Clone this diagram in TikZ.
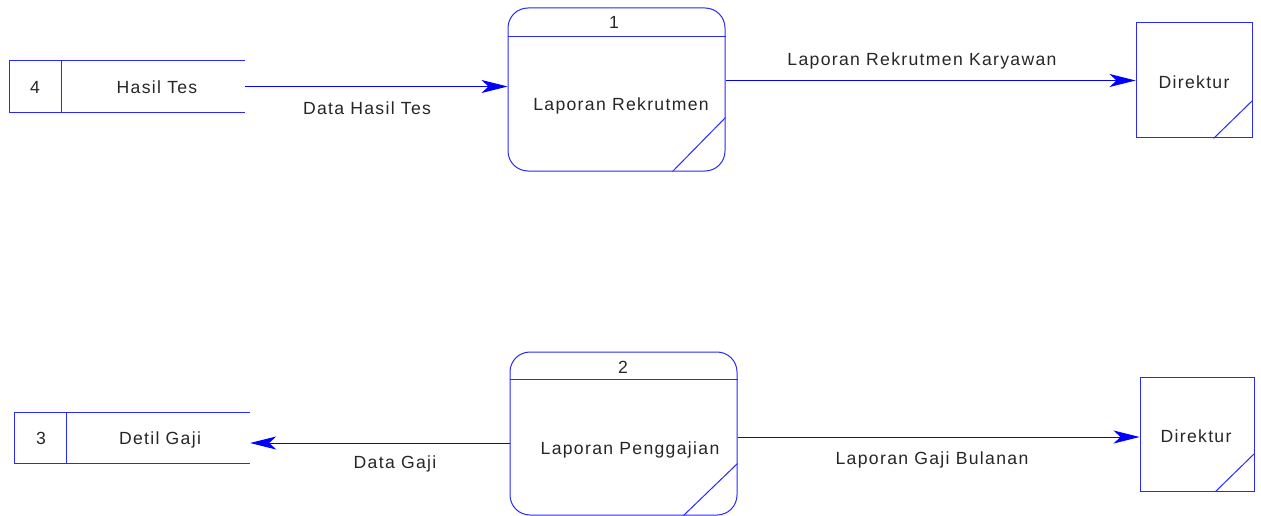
\documentclass[tikz,border=0pt]{standalone}
\usepackage{fontspec}
\setmainfont{Liberation Sans}[LetterSpace=7.5]
\usetikzlibrary{arrows.meta}
\definecolor{dfdblue}{RGB}{40,40,255}
\tikzset{
  line/.style={draw=dfdblue, line width=1pt},
  proc/.style={line, rounded corners=20pt, inner sep=0pt},
  ext/.style={line, inner sep=0pt},
  store/.style={inner sep=0pt},
  flow/.style={line, -{Stealth[length=26pt,width=13pt,inset=7pt]}, draw=blue, fill=blue},
  txt/.style={font=\fontsize{17.6}{19}\selectfont, inner sep=0pt, text=black!85},
}
\begin{document}
\begin{tikzpicture}[x=1pt,y=-1pt]
\useasboundingbox (0,0) rectangle (1261,516);
% process 1
\node[proc, minimum width=217pt, minimum height=163pt] (p1) at (616.5,89.5) {};
\draw[line] ([yshift=-29pt]p1.north west) -- ([yshift=-29pt]p1.north east);
\draw[line] ([yshift=54pt]p1.south east) -- ([xshift=-53pt]p1.south east);
\node[txt] (p1n) at (614,22) {1};
\node[txt] (p1t) at (621,106) {Laporan Rekrutmen};
% process 2
\node[proc, minimum width=227pt, minimum height=163pt] (p2) at (623.5,433.5) {};
\draw[line] ([yshift=-28pt]p2.north west) -- ([yshift=-28pt]p2.north east);
\draw[line] ([yshift=52pt]p2.south east) -- ([xshift=-54pt]p2.south east);
\node[txt] (p2n) at (623,367) {2};
\node[txt] (p2t) at (630,450) {Laporan Penggajian};
% externals
\node[ext, minimum width=116pt, minimum height=115pt] (d1) at (1194,80.5) {};
\draw[line] ([yshift=38pt]d1.south east) -- ([xshift=-39pt]d1.south east);
\node[txt] (d1t) at (1194,82) {Direktur};
\node[ext, minimum width=114pt, minimum height=114pt] (d2) at (1197,434) {};
\draw[line] ([yshift=38pt]d2.south east) -- ([xshift=-39pt]d2.south east);
\node[txt] (d2t) at (1196,436) {Direktur};
% store 4
\node[store, minimum width=235pt, minimum height=51pt] (s4) at (127.5,86.5) {};
\draw[line] (s4.north east) -- (s4.north west) -- (s4.south west) -- (s4.south east);
\draw[line] ([xshift=52pt]s4.north west) -- ([xshift=52pt]s4.south west);
\node[txt] (s4n) at (35,87) {4};
\node[txt] (s4t) at (157,87) {Hasil Tes};
% store 3
\node[store, minimum width=235pt, minimum height=50pt] (s3) at (132.5,438) {};
\draw[line] (s3.north east) -- (s3.north west) -- (s3.south west) -- (s3.south east);
\draw[line] ([xshift=52pt]s3.north west) -- ([xshift=52pt]s3.south west);
\node[txt] (s3n) at (41,438) {3};
\node[txt] (s3t) at (160,440) {Detil Gaji};
% flows
\draw[flow] (s4.east) -- (s4.east -| p1.west);
\node[txt] (f1) at (367,108) {Data Hasil Tes};
\draw[flow] (d1.west -| p1.east) -- (d1.west);
\node[txt] (f2) at (922,61) {Laporan Rekrutmen Karyawan};
\draw[flow] ([yshift=-9.5pt]p2.west) -- ([yshift=-9.5pt]p2.west -| s3.east);
\node[txt] (f3) at (395,464) {Data Gaji};
\draw[flow] ([yshift=-3.5pt]p2.east) -- ([yshift=-3.5pt]p2.east -| d2.west);
\node[txt] (f4) at (932,460) {Laporan Gaji Bulanan};
\end{tikzpicture}
\end{document}
